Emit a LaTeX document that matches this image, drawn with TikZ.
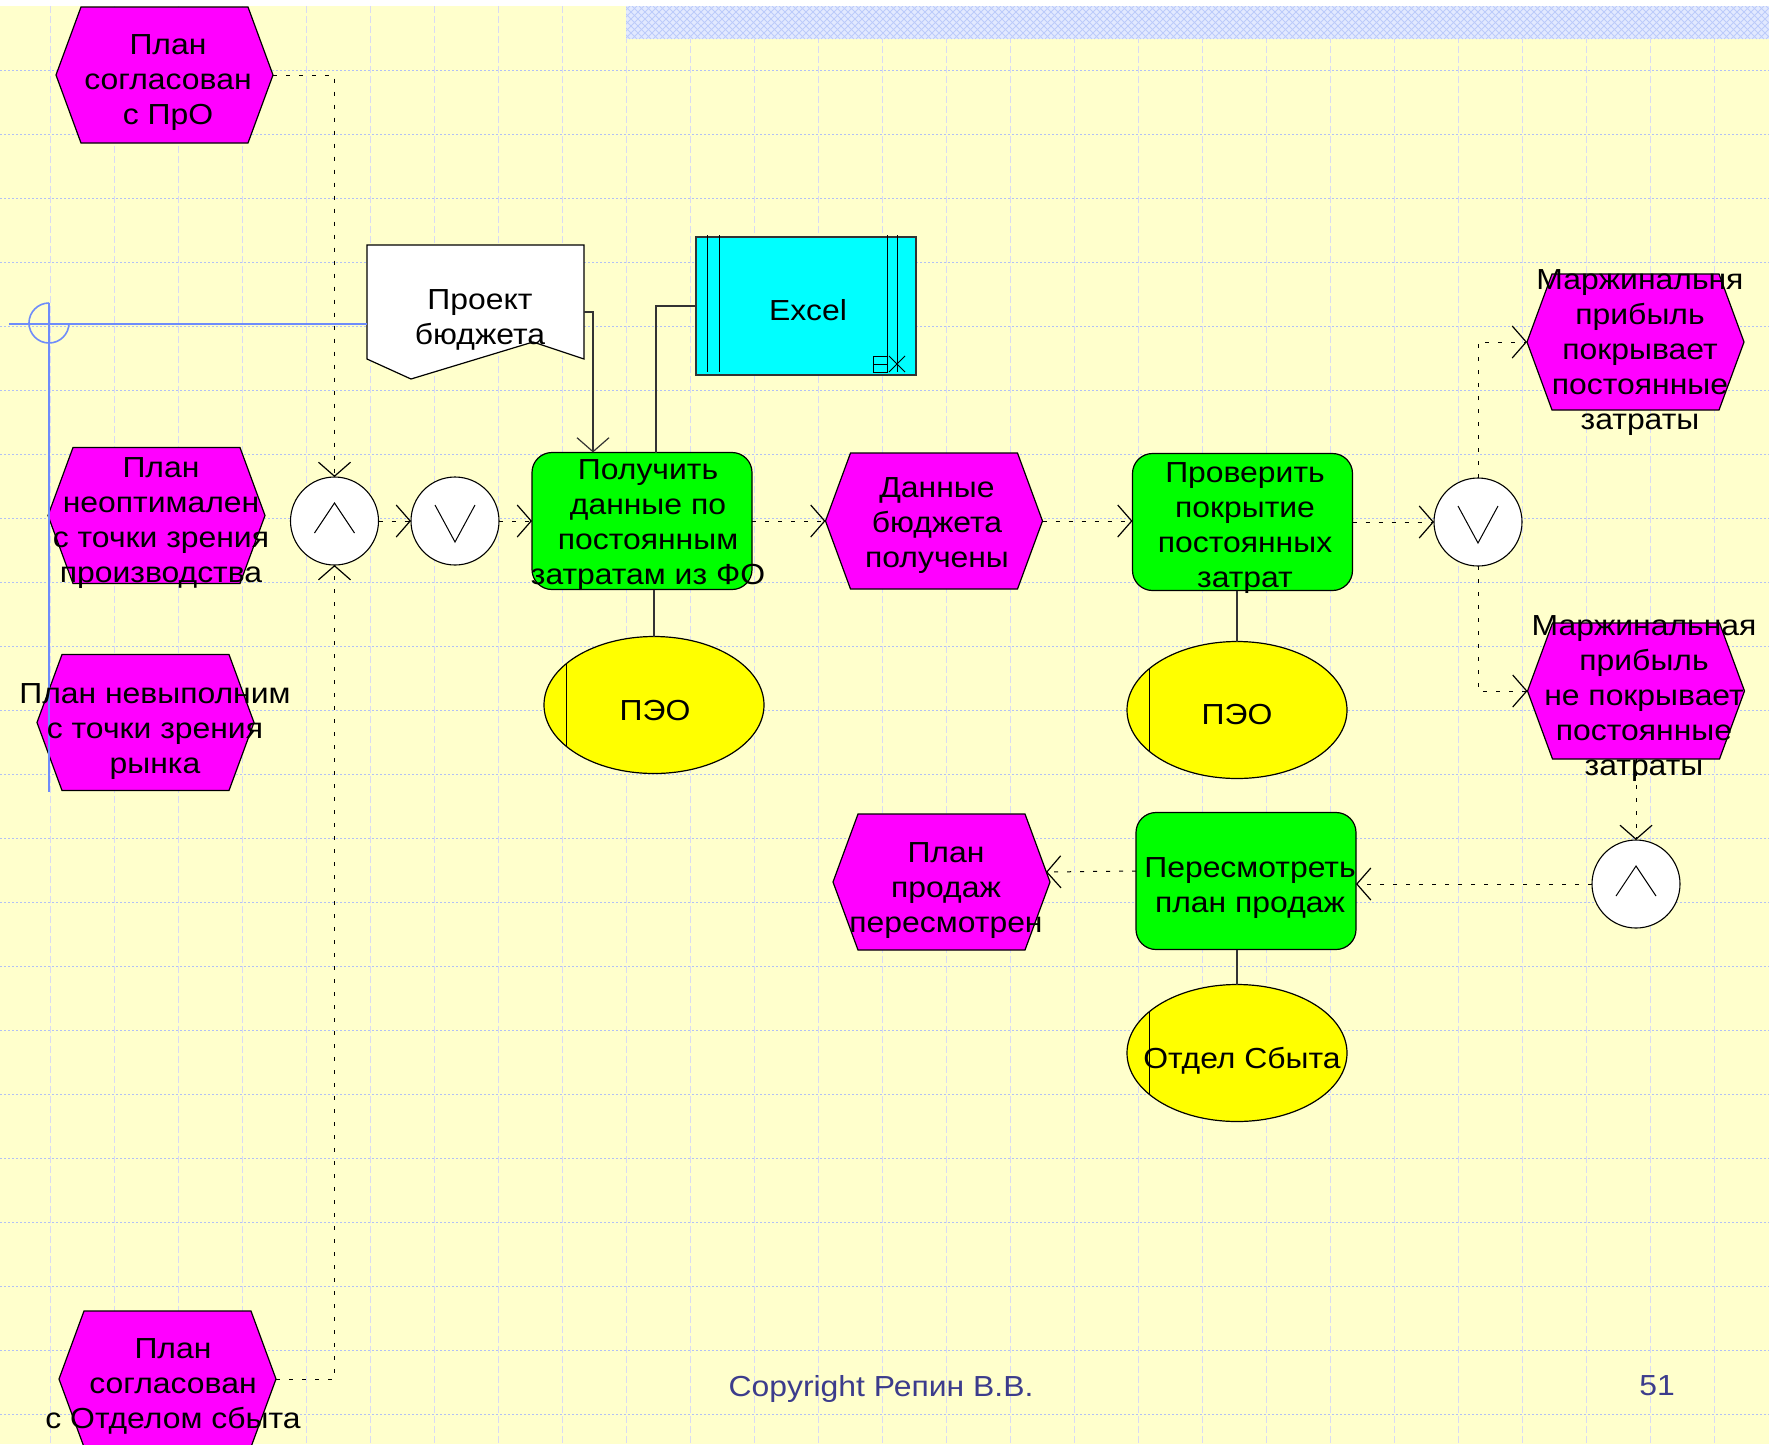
\documentclass[tikz,border=0pt]{standalone}
\usepackage{fontspec}
\setmainfont{Liberation Sans}
\newfontfamily\dfont[FakeStretch=1.1]{Liberation Sans}
\usetikzlibrary{arrows.meta,shapes.geometric,calc}

\definecolor{bgyellow}{RGB}{255,255,204}
\definecolor{evmag}{RGB}{255,0,255}
\definecolor{fngreen}{RGB}{0,255,0}
\definecolor{orgyellow}{RGB}{255,255,0}
\definecolor{syscyan}{RGB}{0,255,255}
\definecolor{gridh}{RGB}{178,192,245}
\definecolor{gridv}{RGB}{216,218,244}
\definecolor{guideblue}{RGB}{110,140,250}
\definecolor{footblue}{RGB}{60,60,140}
\definecolor{bandbase}{RGB}{226,233,255}
\definecolor{bandline}{RGB}{188,203,250}

% hexagonal event outline around a geometry node
\newcommand\hexshape[1]{%
  \filldraw[evline] (#1.west) -- ([xshift=25pt]#1.north west) -- ([xshift=-25pt]#1.north east)
    -- (#1.east) -- ([xshift=-25pt]#1.south east) -- ([xshift=25pt]#1.south west) -- cycle;}
% org-unit ellipse with its left chord
\newcommand\orgchord[1]{%
  \draw[thinline] ($(#1.center)+(-0.8*110pt,0.6*68.5pt)$) -- ($(#1.center)+(-0.8*110pt,-0.6*68.5pt)$);}
\newcommand\andsym[1]{%
  \draw[thinline] ([xshift=-20pt,yshift=-12pt]#1.center) -- ([yshift=18pt]#1.center) -- ([xshift=20pt,yshift=-12pt]#1.center);}
\newcommand\orsym[1]{%
  \draw[thinline] ([xshift=-20pt,yshift=16pt]#1.center) -- ([yshift=-21pt]#1.center) -- ([xshift=20pt,yshift=16pt]#1.center);}

\tikzset{
  evbox/.style={rectangle, inner sep=0, outer sep=0, minimum width=217pt, minimum height=136pt},
  evline/.style={draw=black, line width=1.2pt, fill=evmag},
  fnbox/.style={rectangle, rounded corners=20pt, draw=black, line width=1.2pt, fill=fngreen,
    minimum width=220pt, minimum height=137pt, inner sep=0, outer sep=0},
  orgbox/.style={ellipse, draw=black, line width=1.2pt, fill=orgyellow,
    minimum width=220pt, minimum height=137pt, inner sep=0, outer sep=0},
  opbox/.style={circle, draw=black, line width=1.1pt, fill=white, minimum size=88pt, inner sep=0, outer sep=0},
  thinline/.style={draw=black, line width=1pt},
  link/.style={draw=black!80, line width=1.2pt},
  flow/.style={draw=black, line width=1pt, dash pattern=on 4pt off 9pt,
    -{Straight Barb[length=14pt,width=32pt,line width=1.2pt]}},
  linkarrow/.style={link, -{Straight Barb[length=14pt,width=32pt,line width=1.2pt]}},
  guide/.style={draw=guideblue, line width=1.6pt},
  lbl/.style={align=center, inner sep=0, outer sep=0, yshift=-3.5pt,
    font=\dfont\fontsize{29}{35}\selectfont},
  foot/.style={inner sep=0, yshift=-2pt, text=footblue, font=\dfont\fontsize{29}{35}\selectfont},
}

\begin{document}
\begin{tikzpicture}[x=1pt,y=-1pt]
\useasboundingbox (0,0) rectangle (1769,1444);
\clip (0,0) rectangle (1769,1444);

% paper: white margin, yellow sheet, grid and hatched band
\fill[white] (0,0) rectangle (1769,1444);
\fill[bgyellow] (0,6) rectangle (1769,1444);
\foreach \gx in {50,114,...,1714}
  \draw[gridv, line width=1pt, dash pattern=on 7pt off 3pt] (\gx,6) -- (\gx,1444);
\foreach \gy in {70,134,...,1414}
  \draw[gridh, line width=1pt, dash pattern=on 2pt off 2pt] (0,\gy) -- (1769,\gy);
\fill[bandbase] (626,6) rectangle (1769,39);
\begin{scope}
  \clip (626,6) rectangle (1769,39);
  \foreach \bx in {590,597,...,1769} {
    \draw[bandline, line width=0.8pt] (\bx,6) -- ++(33,33);
    \draw[bandline, line width=0.8pt] (\bx,39) -- ++(33,-33);
  }
\end{scope}

% events
\node[evbox] (e1) at (164.5,75) {};
\node[evbox] (e2) at (156.5,515.5) {};
\node[evbox] (e3) at (145.5,722.5) {};
\node[evbox] (e4) at (167.5,1379) {};
\node[evbox] (e5) at (934,521) {};
\node[evbox] (e6) at (1635.5,342) {};
\node[evbox] (e7) at (1636,691) {};
\node[evbox] (e8) at (941.5,882) {};
\foreach \n in {e1,e2,e3,e4,e5,e6,e7,e8} {\hexshape{\n}}

% budget draft document
\node[rectangle, inner sep=0, outer sep=0, minimum width=217pt, minimum height=134pt] (d1) at (475.5,312) {};
\filldraw[draw=black, line width=1.2pt, fill=white] (d1.north west) -- (d1.north east)
  -- ([yshift=20pt]d1.south east) -- ([xshift=166pt,yshift=37pt]d1.south west)
  -- ([xshift=44pt]d1.south west) -- ([yshift=20pt]d1.south west) -- cycle;

% application system
\node[rectangle, draw=black!80, line width=1.2pt, fill=syscyan, minimum width=220pt, minimum height=138pt,
  inner sep=0, outer sep=0] (x1) at (806,306) {};
\foreach \ox in {11,23} \draw[thinline] ([xshift=\ox pt,yshift=2pt]x1.north west) -- ([xshift=\ox pt,yshift=3pt]x1.south west);
\foreach \ox in {29,19} \draw[thinline] ([xshift=-\ox pt,yshift=2pt]x1.north east) -- ([xshift=-\ox pt,yshift=3pt]x1.south east);
\draw[line width=0.8pt] ([xshift=-28pt,yshift=19pt]x1.south east) -| ([xshift=-43pt,yshift=3pt]x1.south east) -- ([xshift=-28pt,yshift=3pt]x1.south east);
\draw[line width=0.8pt] ([xshift=-43pt,yshift=11pt]x1.south east) -- ([xshift=-28pt,yshift=11pt]x1.south east);
\draw[line width=0.8pt] ([xshift=-27pt,yshift=19pt]x1.south east) -- ([xshift=-11pt,yshift=3pt]x1.south east);
\draw[line width=0.8pt] ([xshift=-27pt,yshift=3pt]x1.south east) -- ([xshift=-11pt,yshift=19pt]x1.south east);

% functions
\node[fnbox] (f1) at (642,521) {};
\node[fnbox] (f2) at (1242.5,522) {};
\node[fnbox] (f3) at (1246,881) {};

% organisational units
\node[orgbox] (o1) at (654,705) {};
\node[orgbox] (o2) at (1237,710) {};
\node[orgbox] (o3) at (1237,1053) {};
\foreach \n in {o1,o2,o3} {\orgchord{\n}}

% rule connectors
\node[opbox] (and1) at (334.5,521) {};
\node[opbox] (or1) at (455,521) {};
\node[opbox] (or2) at (1478,522) {};
\node[opbox] (and2) at (1636,884) {};
\andsym{and1} \andsym{and2}
\orsym{or1} \orsym{or2}

% control flow
\draw[flow] (e1.east) -| (and1.north);
\draw[flow] (e4.east) -| (and1.south);
\draw[flow] (and1.east) -- (or1.west);
\draw[flow] (or1.east) -- (f1.west);
\draw[flow] (f1.east) -- (e5.west);
\draw[flow] (e5.east) -- (e5.east -| f2.west);
\draw[flow] (f2.east) -- (or2.west);
\draw[flow] (or2.north) |- (e6.west);
\draw[flow] (or2.south) |- (e7.west);
\draw[flow] (e7.south) -- (and2.north);
\draw[flow] (and2.west) -- (and2.west -| f3.east);
\draw[flow] ([yshift=10pt]f3.west) -- ([xshift=-4pt,yshift=10pt]e8.east);

% information and resource links
\draw[linkarrow] (d1.east) -| ([xshift=-49pt]f1.north);
\draw[link] (x1.west) -| ([xshift=14pt]f1.north);
\draw[link] (o1.north) -- (o1.north |- f1.south);
\draw[link] (o2.north) -- (o2.north |- f2.south);
\draw[link] (o3.north) -- (o3.north |- f3.south);

% blue guide mark
\coordinate (gl) at (9,324);
\coordinate (gb) at (49,792);
\node[circle, inner sep=0, outer sep=0, minimum size=40pt] (gc) at (49,323) {};
\begin{scope}
  \clip (20,290) -- (49,290) -- (49,323) -- (80,323) -- (80,360) -- (20,360) -- cycle;
  \draw[guide] (gc.center) circle[radius=20pt];
\end{scope}
\draw[guide] (gl) -- (gl -| d1.west);
\draw[guide] (gc.north) -- (gb);

% texts
\node[lbl] (e1t) at (168,79) {План\\согласован\\с ПрО};
\node[lbl] (e2t) at (161,520) {План\\неоптимален\\с точки зрения\\производства};
\node[lbl] (e3t) at (155,728) {План невыполним\\с точки зрения\\рынка};
\node[lbl] (e4t) at (173,1383) {План\\согласован\\с Отделом сбыта};
\node[lbl] (e5t) at (937,522) {Данные\\бюджета\\получены};
\node[lbl] (e6t) at (1640,349) {Маржинальня\\прибыль\\покрывает\\постоянные\\затраты};
\node[lbl] (e7t) at (1644,695) {Маржинальная\\прибыль\\не покрывает\\постоянные\\затраты};
\node[lbl] (e8t) at (946,887) {План\\продаж\\пересмотрен};
\node[lbl] (d1t) at (480,316) {Проект\\бюджета};
\node[lbl] (x1t) at (808,307) {Excel};
\node[lbl] (f1t) at (648,522) {Получить\\данные по\\постоянным\\затратам из ФО};
\node[lbl] (f2t) at (1245,525) {Проверить\\покрытие\\постоянных\\затрат};
\node[lbl] (f3t) at (1250,885) {Пересмотреть\\план продаж};
\node[lbl] (o1t) at (655,707) {ПЭО};
\node[lbl] (o2t) at (1237,711) {ПЭО};
\node[lbl] (o3t) at (1242,1057) {Отдел Сбыта};

% footer
\node[foot] (copy) at (881,1387) {Copyright Репин В.В.};
\node[foot] (page) at (1657,1384) {51};
\end{tikzpicture}
\end{document}
